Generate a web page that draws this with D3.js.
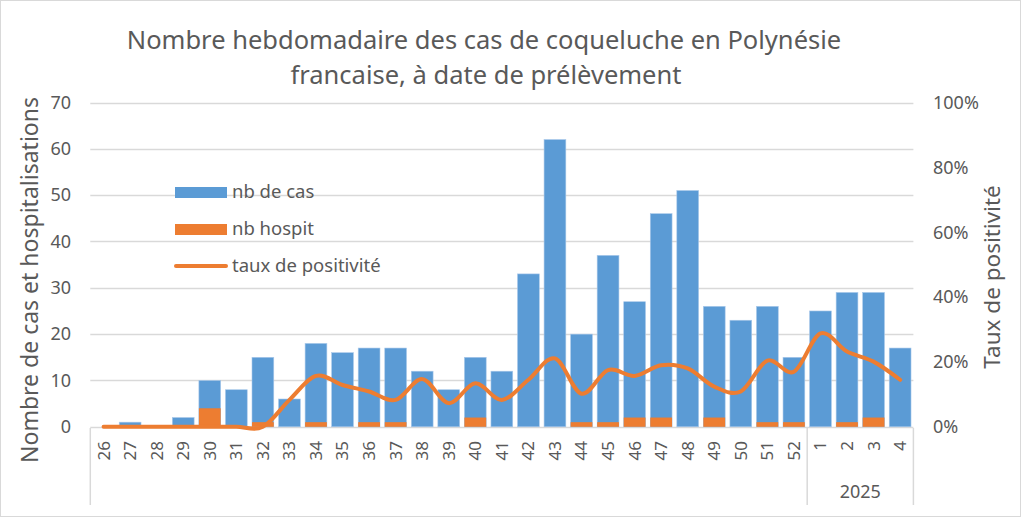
<!DOCTYPE html>
<html>
<head>
<meta charset="utf-8">
<script src="https://cdn.jsdelivr.net/npm/d3@7"></script>
<style>
  body { margin: 0; background: #fff; }
  text { font-family: "Noto Sans", sans-serif; fill: #595959; }
</style>
</head>
<body>
<script>
// weekly data, weeks 26..52 of 2024 then 1..4 of 2025
var weeks = ["26","27","28","29","30","31","32","33","34","35","36","37","38","39","40","41","42","43","44","45","46","47","48","49","50","51","52","1","2","3","4"];
var nbCas = [0,1,0,2,10,8,15,6,18,16,17,17,12,8,15,12,33,62,20,37,27,46,51,26,23,26,15,25,29,29,17];
var nbHospit = [0,0,0,0,4,0,1,0,1,0,1,1,0,0,2,0,0,0,1,1,2,2,0,2,0,1,1,0,1,2,0];
var tauxPos = [0,0,0,0,0,0,0,8.3,15.7,12.9,10.9,8.3,14.7,7.3,13.4,8.3,14.5,21.1,10.2,17.5,15.7,19,18,12.4,10.9,20.4,17,28.8,23.2,20.1,14.5];
var leftTicks = [0,10,20,30,40,50,60,70];
var rightTicks = [0,20,40,60,80,100];

var width = 1024, height = 519;
var blue = "#5B9BD5", orange = "#ED7D31", grid = "#D9D9D9";

var svg = d3.select("body").append("svg")
	.attr("width", width)
	.attr("height", height);

// chart border
svg.append("rect")
	.attr("x", 0.5).attr("y", 0.5)
	.attr("width", 1020).attr("height", height - 3)
	.attr("fill", "none").attr("stroke", grid);

var x = d3.scaleBand().domain(weeks).range([90.3, 913.4]).paddingInner(0.18).paddingOuter(0.09);
var y = d3.scaleLinear().domain([0, 70]).range([426.8, 102.5]);
var y2 = d3.scaleLinear().domain([0, 100]).range([426.8, 102.5]);

// gridlines
svg.append("g")
	.selectAll("line")
	.data(leftTicks)
	.enter().append("line")
	.attr("x1", 90.3).attr("x2", 913.4)
	.attr("y1", (d) => Math.round(y(d)) + 0.5)
	.attr("y2", (d) => Math.round(y(d)) + 0.5)
	.attr("stroke", grid).attr("stroke-width", 1.5);

// left axis labels
svg.append("g")
	.selectAll("text")
	.data(leftTicks)
	.enter().append("text")
	.attr("x", 71)
	.attr("y", (d) => y(d))
	.attr("dy", "0.35em")
	.attr("text-anchor", "end")
	.style("font-size", "18px")
	.text((d) => d);

// right axis labels
svg.append("g")
	.selectAll("text")
	.data(rightTicks)
	.enter().append("text")
	.attr("x", 933)
	.attr("y", (d) => y2(d))
	.attr("dy", "0.35em")
	.style("font-size", "18px")
	.text((d) => d + "%");

// bars
svg.append("g")
	.selectAll("rect")
	.data(nbCas)
	.enter().append("rect")
	.attr("x", (d, i) => x(weeks[i]))
	.attr("width", x.bandwidth())
	.attr("y", (d) => y(d))
	.attr("height", (d) => y(0) - y(d))
	.attr("fill", blue)
	.attr("stroke", "#A9C8EA").attr("stroke-width", 0.6);

svg.append("g")
	.selectAll("rect")
	.data(nbHospit)
	.enter().append("rect")
	.attr("x", (d, i) => x(weeks[i]))
	.attr("width", x.bandwidth())
	.attr("y", (d) => y(d))
	.attr("height", (d) => y(0) - y(d))
	.attr("fill", orange);

// smoothed positivity line
var line = d3.line()
	.x((d, i) => x(weeks[i]) + x.bandwidth() / 2)
	.y((d) => y2(d))
	.curve(d3.curveCardinal.tension(0));

svg.append("path")
	.datum(tauxPos)
	.attr("d", line)
	.attr("fill", "none")
	.attr("stroke", orange)
	.attr("stroke-width", 4)
	.attr("stroke-linecap", "round");

// category axis
var axisY = 432;
svg.append("g")
	.selectAll("text")
	.data(weeks)
	.enter().append("text")
	.attr("transform", (d) => "translate(" + (x(d) + x.bandwidth() / 2) + "," + 441 + ") rotate(-90)")
	.attr("dy", "0.35em")
	.attr("text-anchor", "end")
	.style("font-size", "17px")
	.text((d) => d);

[90.3, x("1") - x.step() * 0.09, 913.4].forEach(function(px) {
	svg.append("line")
		.attr("x1", px).attr("x2", px)
		.attr("y1", axisY - 4).attr("y2", 505)
		.attr("stroke", grid).attr("stroke-width", 1.5);
});

svg.append("text")
	.attr("x", (x("1") + x("4") + x.bandwidth()) / 2)
	.attr("y", 498)
	.attr("text-anchor", "middle")
	.style("font-size", "18px")
	.text("2025");

// titles
svg.append("text")
	.attr("x", 484).attr("y", 49)
	.attr("text-anchor", "middle")
	.style("font-size", "25.5px")
	.text("Nombre hebdomadaire des cas de coqueluche en Polynésie");
svg.append("text")
	.attr("x", 486).attr("y", 84)
	.attr("text-anchor", "middle")
	.style("font-size", "25.5px")
	.text("francaise, à date de prélèvement");

svg.append("text")
	.attr("transform", "translate(30,280) rotate(-90)")
	.attr("dy", "0.35em")
	.attr("text-anchor", "middle")
	.style("font-size", "23px")
	.text("Nombre de cas et hospitalisations");

svg.append("text")
	.attr("transform", "translate(992,277) rotate(-90)")
	.attr("dy", "0.35em")
	.attr("text-anchor", "middle")
	.style("font-size", "22.5px")
	.text("Taux de positivité");

// legend
var legendItems = [
	{name: "nb de cas", type: "rect", color: blue},
	{name: "nb hospit", type: "rect", color: orange},
	{name: "taux de positivité", type: "line", color: orange}
];
var legend = svg.selectAll(".legend")
	.data(legendItems)
	.enter().append("g")
	.attr("class", "legend")
	.attr("transform", (d, i) => "translate(175," + (192 + i * 37) + ")");

legend.filter((d) => d.type == "rect").append("rect")
	.attr("x", 0).attr("y", -5)
	.attr("width", 52).attr("height", 11)
	.attr("fill", (d) => d.color);

legend.filter((d) => d.type == "line").append("line")
	.attr("x1", 1).attr("x2", 51)
	.attr("stroke", (d) => d.color)
	.attr("stroke-width", 4)
	.attr("stroke-linecap", "round");

legend.append("text")
	.attr("x", 57)
	.attr("dy", "0.35em")
	.style("font-size", "18.5px")
	.text((d) => d.name);
</script>
</body>
</html>
